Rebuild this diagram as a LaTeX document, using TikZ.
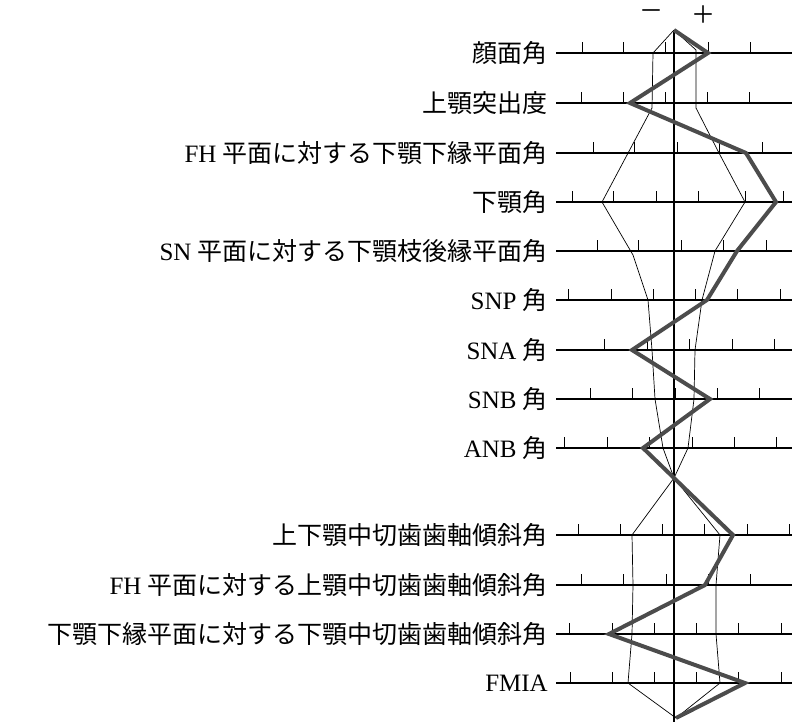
\documentclass[tikz,border=0pt]{standalone}
\usepackage{fontspec}
\setmainfont{Liberation Serif}
\newfontfamily\jp{Noto Sans CJK JP}
\begin{document}
\begin{tikzpicture}[x=1pt,y=-1pt,
  lbl/.style={anchor=east,inner sep=0pt,font=\fontsize{25}{25}\selectfont},
  axis/.style={line width=1.6pt},
  tick/.style={line width=1pt},
  thin/.style={line width=0.7pt},
  thick/.style={line width=4pt,draw=black!70,line join=miter}]
\useasboundingbox (0,0) rectangle (806,726);
\node[font=\fontsize{24}{24}\selectfont,inner sep=0pt] (minus) at (651,15) {\jp －};
\node[font=\fontsize{24}{24}\selectfont,inner sep=0pt] (plus) at (703,15) {\jp ＋};
\coordinate (top) at (674,30);
\coordinate (bot) at (674,722);
\draw[axis] (top) -- (bot);
\foreach \y/\t/\ticks in {
 53/{\jp 顔面角}/{582,623,665,708,750},
 103/{\jp 上顎突出度}/{581,623,665,707,749},
 153/{FH {\jp 平面に対する下顎下縁平面角}}/{593,634,677,719,762},
 202/{\jp 下顎角}/{572,613,656,698,745,783},
 251/{SN {\jp 平面に対する下顎枝後縁平面角}}/{597,638,681,723,766},
 300/{SNP {\jp 角}}/{568,611,653,695,737,780},
 350/{SNA {\jp 角}}/{604,647,689,732,774},
 399/{SNB {\jp 角}}/{590,632,675,717,759},
 448/{ANB {\jp 角}}/{564,607,649,692,734,776},
 535/{\jp 上下顎中切歯歯軸傾斜角}/{578,620,662,704,747,789},
 585/{FH {\jp 平面に対する上顎中切歯歯軸傾斜角}}/{581,623,666,708,750},
 634/{\jp 下顎下縁平面に対する下顎中切歯歯軸傾斜角}/{569,612,654,696,738,781},
 683/{FMIA}/{570,612,654,696,738,781}}{
  \node[lbl] (l\y) at (548,\y) {\t};
  \draw[axis] (556,\y) coordinate (a\y) -- (792,\y) coordinate (b\y);
  \foreach \x in \ticks {\draw[tick] (\x,\y) -- (\x,\y-11);}
}
\draw[thin] (top) -- (653,53) -- (652,108) -- (602,202) -- (633,255) -- (648,300) -- (652,350) -- (655,399) -- (663,448) -- (674,478) -- (632,535) -- (633,585) -- (632,634) -- (628,683) -- (676,718);
\draw[thin] (top) -- (696,50) -- (696,108) -- (719,153) -- (745,202) -- (715,251) -- (702,300) -- (695,350) -- (694,399) -- (688,448) -- (674,478) -- (720,535) -- (716,585) -- (716,634) -- (720,683) -- (676,718);
\draw[thick] (top) -- (708,53) -- (630,103) -- (746,153) -- (776,202) -- (737,251) -- (707,300) -- (632,350) -- (710,399) -- (643,448) -- (674,478) -- (733,535) -- (705,585) -- (609,634) -- (745,683) -- (676,718);
\end{tikzpicture}
\end{document}
